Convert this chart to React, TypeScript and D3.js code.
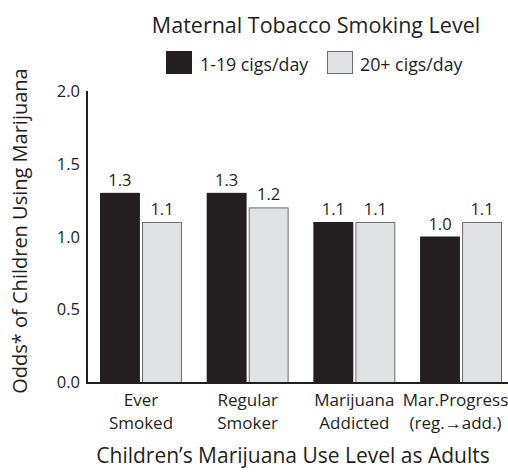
import * as d3 from 'd3';
import React from 'react';

const categories = ['Ever Smoked', 'Regular Smoker', 'Marijuana Addicted', 'Mar. Progress'];
const categoryLines = [
  ['Ever', 'Smoked'],
  ['Regular', 'Smoker'],
  ['Marijuana', 'Addicted'],
  ['Mar.Progress', '(reg.\u2192add.)'],
];
const seriesNames = ['1-19 cigs/day', '20+ cigs/day'];
const lowValues = [1.3, 1.3, 1.1, 1.0];
const highValues = [1.1, 1.2, 1.1, 1.1];
const yTicks = [0, 0.5, 1.0, 1.5, 2.0];

const FONT = '"Open Sans", sans-serif';
const TEXT = '#231f20';
const colors = ['#231f20', '#e1e2e4'];

const App: React.FC = () => {
  const width = 508;
  const height = 472;
  const axisX = 87;

  const y = d3.scaleLinear().domain([0, 2]).range([382, 91]);
  const x = d3
    .scaleBand<string>()
    .domain(categories)
    .range([100, 502])
    .paddingInner(0.232)
    .paddingOuter(0);
  const xs = d3
    .scaleBand<string>()
    .domain(seriesNames)
    .range([0, x.bandwidth()])
    .paddingInner(0.05);

  const series = [lowValues, highValues];

  return (
    <svg
      width={width}
      height={height}
      style={{ position: 'absolute', left: 0, top: 0, background: 'white' }}
      fontFamily={FONT}
    >
      <text x={316} y={33} textAnchor='middle' fontSize={21.5} fill={TEXT}>
        Maternal Tobacco Smoking Level
      </text>

      {/* legend */}
      <g>
        <rect x={166} y={51} width={26} height={23} fill={colors[0]} />
        <text x={200} y={71} fontSize={17.8} fill={TEXT}>{seriesNames[0]}</text>
        <rect x={327.5} y={51.5} width={25} height={22} fill={colors[1]} stroke='#6d6d6d' strokeWidth={1} />
        <text x={360} y={71} fontSize={17.8} fill={TEXT}>{seriesNames[1]}</text>
      </g>

      {/* y axis */}
      <line x1={axisX} x2={axisX} y1={y(2)} y2={y(0) + 1} stroke={TEXT} strokeWidth={2} />
      {yTicks.map((t) => (
        <text key={t} x={80} y={y(t) + 6} textAnchor='end' fontSize={16.5} fill={TEXT}>
          {t.toFixed(1)}
        </text>
      ))}
      <text
        transform={`translate(27,231) rotate(-90)`}
        textAnchor='middle'
        fontSize={20}
        fill={TEXT}
      >
        Odds* of Children Using Marijuana
      </text>

      {/* bars */}
      {categories.map((c, i) => (
        <g key={c} transform={`translate(${x(c)},0)`}>
          {series.map((vals, s) => {
            const bx = xs(seriesNames[s]) as number;
            const v = vals[i];
            return (
              <g key={s}>
                <rect
                  x={bx + (s === 1 ? 0.5 : 0)}
                  y={y(v) + (s === 1 ? 0.5 : 0)}
                  width={xs.bandwidth() - (s === 1 ? 1 : 0)}
                  height={y(0) - y(v)}
                  fill={colors[s]}
                  stroke={s === 1 ? '#6d6d6d' : 'none'}
                  strokeWidth={1}
                />
                <text
                  x={bx + xs.bandwidth() / 2}
                  y={y(v) - 7}
                  textAnchor='middle'
                  fontSize={16.5}
                  fill={TEXT}
                >
                  {v.toFixed(1)}
                </text>
              </g>
            );
          })}
        </g>
      ))}

      {/* x axis */}
      <line x1={axisX - 1} x2={width} y1={y(0) + 1} y2={y(0) + 1} stroke={TEXT} strokeWidth={2} />
      {categories.map((c, i) => {
        const cx = (x(c) as number) + x.bandwidth() / 2 - (i === 3 ? 5.5 : 0);
        return (
          <text key={c} textAnchor='middle' fontSize={17} fill={TEXT}>
            <tspan x={cx} y={405.5}>{categoryLines[i][0]}</tspan>
            <tspan x={cx} y={428.5}>{categoryLines[i][1]}</tspan>
          </text>
        );
      })}
      <text x={293} y={463} textAnchor='middle' fontSize={21} fill={TEXT}>
        Children’s Marijuana Use Level as Adults
      </text>
    </svg>
  );
};

export default App;
